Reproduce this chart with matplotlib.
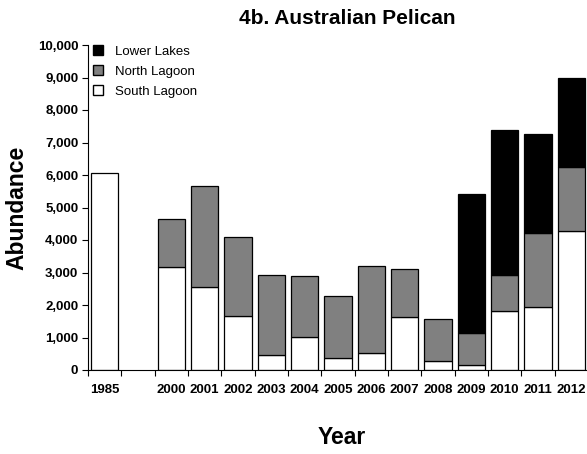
#!/usr/bin/env python3

import numpy as np
import matplotlib
matplotlib.use("Agg")
import matplotlib.pyplot as plt
from matplotlib.patches import Patch
from matplotlib.ticker import FuncFormatter

plt.rcParams["font.family"] = ["Liberation Sans", "DejaVu Sans"]

years = ["1985", "", "2000", "2001", "2002", "2003", "2004", "2005", "2006",
         "2007", "2008", "2009", "2010", "2011", "2012"]
south_lagoon = [6050, 0, 3160, 2540, 1670, 450, 1010, 370, 530,
                1630, 290, 140, 1830, 1930, 4270]
north_lagoon = [0, 0, 1500, 3130, 2410, 2480, 1890, 1920, 2680,
                1480, 1290, 1010, 1080, 2300, 1980]
lower_lakes = [0, 0, 0, 0, 0, 0, 0, 0, 0,
               0, 0, 4280, 4470, 3040, 2740]


def main():
    fig = plt.figure(figsize=(5.87, 4.54), dpi=100)
    ax = fig.add_axes([88 / 587, 1 - 370 / 454, 500 / 587, 325 / 454])

    x = np.arange(len(years))
    s = np.array(south_lagoon)
    n = np.array(north_lagoon)
    l = np.array(lower_lakes)
    has = s + n + l > 0
    w = 0.82
    kw = dict(width=w, edgecolor="black", linewidth=0.9)
    ax.bar(x[has], s[has], color="white", **kw)
    m = n > 0
    ax.bar(x[m], n[m], bottom=s[m], color="#808080", **kw)
    m = l > 0
    ax.bar(x[m], l[m], bottom=(s + n)[m], color="black", **kw)

    ax.set_xlim(-0.5, len(years) - 0.5)
    ax.set_ylim(0, 10000)
    ax.set_yticks(range(0, 10001, 1000))
    ax.yaxis.set_major_formatter(FuncFormatter(lambda v, p: f"{int(v):,}"))
    ax.set_xticks(x)
    ax.set_xticklabels(years)
    ax.set_xticks(np.arange(-0.5, len(years), 1.0), minor=True)
    ax.tick_params(axis="x", which="major", length=0, pad=10)
    ax.tick_params(axis="x", which="minor", length=4, width=0.8)
    ax.tick_params(axis="y", length=4, width=0.8, pad=3)
    for lab in ax.get_xticklabels() + ax.get_yticklabels():
        lab.set_fontsize(9.5)
        lab.set_fontweight("bold")

    for side in ["top", "right"]:
        ax.spines[side].set_visible(False)
    ax.spines["left"].set_linewidth(0.8)
    ax.spines["bottom"].set_linewidth(0.8)

    ax.set_ylabel("Abundance", fontsize=16.5, fontweight="bold", labelpad=7)
    fig.text(342 / 587, 1 - 437 / 454, "Year", fontsize=16.5, fontweight="bold",
             ha="center", va="center")
    fig.text(347 / 587, 1 - 18 / 454, "4b. Australian Pelican", fontsize=15,
             fontweight="bold", ha="center", va="center")

    handles = [Patch(facecolor="black", edgecolor="black", label="Lower Lakes"),
               Patch(facecolor="#808080", edgecolor="black", label="North Lagoon"),
               Patch(facecolor="white", edgecolor="black", label="South Lagoon")]
    ax.legend(handles=handles, loc="upper left", bbox_to_anchor=(-0.006, 1.024),
              frameon=False, fontsize=9.5, handlelength=0.8, handleheight=0.8,
              handletextpad=0.85, labelspacing=0.55, borderaxespad=0.2)

    fig.savefig("out.png", dpi=100)
    plt.close(fig)


if __name__ == "__main__":
    main()
